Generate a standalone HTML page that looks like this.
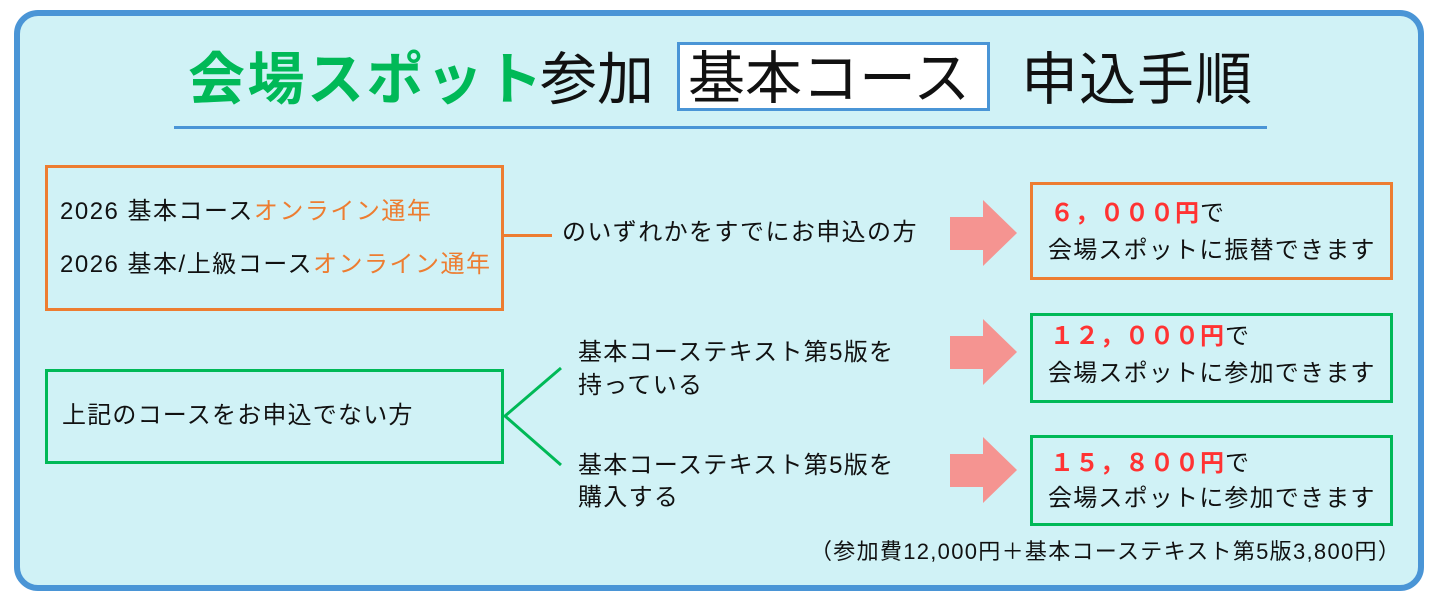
<!DOCTYPE html>
<html><head><meta charset="utf-8"><style>
*{margin:0;padding:0;box-sizing:border-box}
body{width:1441px;height:600px;background:#fff;position:relative;overflow:hidden;font-family:"Liberation Sans","Noto Sans CJK JP",sans-serif;color:#111}
.a{position:absolute;white-space:nowrap;line-height:1}
.box{position:absolute;border:3px solid}
.or{color:#ed7d31}
.red{color:#ff3333;font-weight:bold;letter-spacing:1px}
.t24{font-size:24px}
</style></head><body>
<div style="position:absolute;left:14px;top:10px;width:1410px;height:581px;border:6px solid #4a95d6;border-radius:24px;background:#d0f2f6"></div>

<div class="a" style="left:188px;top:52px;font-size:57px;font-weight:bold;color:#00b957;letter-spacing:2.5px">会場スポット</div>
<div class="a" style="left:540px;top:52px;font-size:57px">参加</div>
<div style="position:absolute;left:677px;top:42px;width:313px;height:69px;border:3px solid #4a95d6;background:#fff"></div>
<div class="a" style="left:688px;top:51px;font-size:57px">基本コース</div>
<div class="a" style="left:1021px;top:52px;font-size:57px;letter-spacing:1px">申込手順</div>
<div style="position:absolute;left:174px;top:126px;width:1093px;height:3px;background:#4a95d6"></div>

<div class="box" style="left:45px;top:165px;width:459px;height:146px;border-color:#ed7d31"></div>
<div class="a t24" style="left:60px;top:200px;letter-spacing:1.5px">2026&nbsp;基本コース<span class="or">オンライン通年</span></div>
<div class="a t24" style="left:60px;top:253px;letter-spacing:1.5px">2026&nbsp;基本/上級コース<span class="or">オンライン通年</span></div>
<div style="position:absolute;left:503px;top:234px;width:49px;height:3px;background:#ed7d31"></div>
<div class="a t24" style="left:562px;top:221px;letter-spacing:1.4px">のいずれかをすでにお申込の方</div>

<div class="box" style="left:45px;top:369px;width:459px;height:95px;border-color:#00b957"></div>
<div class="a t24" style="left:62px;top:404px;letter-spacing:1.2px">上記のコースをお申込でない方</div>
<svg style="position:absolute;left:0;top:0" width="1441" height="600">
<polyline points="561,368 505,416 561,465" fill="none" stroke="#00b957" stroke-width="3"/>
<polygon points="950,217 983,217 983,200 1017,233 983,266 983,250 950,250" fill="#f59491"/>
<polygon points="950,336 983,336 983,319 1017,352 983,385 983,369 950,369" fill="#f59491"/>
<polygon points="950,454 983,454 983,437 1017,470 983,503 983,487 950,487" fill="#f59491"/>
</svg>
<div class="a t24" style="left:578px;top:341px;letter-spacing:1.3px">基本コーステキスト第5版を</div>
<div class="a t24" style="left:578px;top:374px;letter-spacing:1.3px">持っている</div>
<div class="a t24" style="left:578px;top:454px;letter-spacing:1.3px">基本コーステキスト第5版を</div>
<div class="a t24" style="left:578px;top:486px;letter-spacing:1.3px">購入する</div>

<div class="box" style="left:1030px;top:182px;width:363px;height:98px;border-color:#ed7d31"></div>
<div class="a t24" style="left:1050px;top:202px"><span class="red">６，０００円</span>で</div>
<div class="a t24" style="left:1048px;top:239px;letter-spacing:1.2px">会場スポットに振替できます</div>

<div class="box" style="left:1030px;top:313px;width:363px;height:90px;border-color:#00b957"></div>
<div class="a t24" style="left:1050px;top:325px"><span class="red">１２，０００円</span>で</div>
<div class="a t24" style="left:1048px;top:362px;letter-spacing:1.2px">会場スポットに参加できます</div>

<div class="a t24" style="left:1050px;top:452px"><span class="red">１５，８００円</span>で</div>
<div class="box" style="left:1030px;top:435px;width:363px;height:91px;border-color:#00b957"></div>
<div class="a t24" style="left:1048px;top:487px;letter-spacing:1.2px">会場スポットに参加できます</div>

<div class="a" style="left:810px;top:541px;font-size:22px;letter-spacing:1.3px">（参加費12,000円＋基本コーステキスト第5版3,800円）</div>
</body></html>
